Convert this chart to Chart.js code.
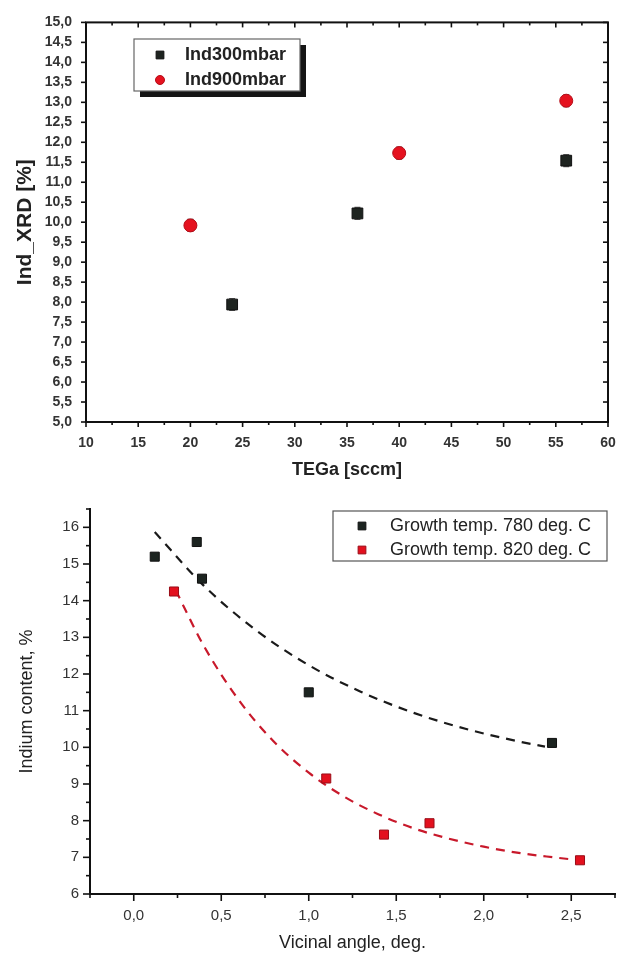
<!DOCTYPE html>
<html>
<head>
<meta charset="utf-8">
<script src="https://cdn.jsdelivr.net/npm/chart.js@4.4.1/dist/chart.umd.min.js"></script>
<style>
  body { margin: 0; background: #fff; }
  .wrap { position: absolute; left: 0; width: 630px; }
  #topWrap { top: 0; height: 490px; }
  #bottomWrap { top: 480px; height: 476px; }
</style>
</head>
<body>
<div class="wrap" id="topWrap"><canvas id="xrdChart"></canvas></div>
<div class="wrap" id="bottomWrap"><canvas id="vicinalChart"></canvas></div>
<script>
// Indium content (XRD) vs. TEGa flow, two reactor pressures
const tegaLow = [24, 36, 56];
const indLow = [7.94, 10.22, 11.54];
const errLow = [0.15, 0.15, 0.15];
const tegaHigh = [20, 40, 56];
const indHigh = [9.92, 11.73, 13.04];
const errHigh = [0.15, 0.15, 0.15];

// Indium content vs. vicinal angle, two growth temperatures
const angle780 = [0.12, 0.36, 0.39, 1.0, 2.39];
const indium780 = [15.2, 15.6, 14.6, 11.5, 10.12];
const angle820 = [0.23, 1.1, 1.43, 1.69, 2.55];
const indium820 = [14.25, 9.15, 7.62, 7.93, 6.92];

// dashed decay fits
const fitAngle780 = [0.12, 0.4, 0.7, 1.0, 1.3, 1.6, 1.9, 2.2, 2.35];
const fitIndium780 = [15.87, 14.41, 13.19, 12.24, 11.51, 10.94, 10.50, 10.16, 10.02];
const fitAngle820 = [0.24, 0.4, 0.6, 0.8, 1.0, 1.2, 1.4, 1.6, 1.8, 2.0, 2.2, 2.4, 2.55];
const fitIndium820 = [14.28, 12.77, 11.29, 10.16, 9.31, 8.66, 8.17, 7.79, 7.51, 7.29, 7.12, 7.00, 6.92];

// labelled ticks of the lower chart
const angleTicks = [0, 0.5, 1.0, 1.5, 2.0, 2.5];
const indiumTicks = [6, 7, 8, 9, 10, 11, 12, 13, 14, 15, 16];

const FONT = "'Liberation Sans', Arial, sans-serif";

const toPoints = (xs, ys) => xs.map((x, i) => ({ x: x, y: ys[i] }));
const comma = v => v.toFixed(1).replace('.', ',');

// ticks along the axes (major + minor), optionally with a closed frame
const axisTicks = {
  id: 'axisTicks',
  afterDraw(chart, args, opts) {
    const ctx = chart.ctx;
    const a = chart.chartArea;
    ctx.save();
    ctx.strokeStyle = '#111';
    if (opts.frame) {
      ctx.lineWidth = 2;
      ctx.strokeRect(a.left, a.top, a.right - a.left, a.bottom - a.top);
    }
    ctx.lineWidth = 1.6;
    opts.sides.forEach(s => {
      const scale = chart.scales[s.scale];
      const n = Math.round((scale.max - scale.min) / s.minor);
      const out = s.inward ? -1 : 1;
      for (let i = 0; i <= n; i++) {
        const v = scale.min + i * s.minor;
        const r = v / s.major;
        const len = Math.abs(r - Math.round(r)) < 1e-6 ? s.len : s.minorLen;
        const p = scale.getPixelForValue(v);
        ctx.beginPath();
        if (s.side === 'left') { ctx.moveTo(a.left, p); ctx.lineTo(a.left - out * len, p); }
        if (s.side === 'right') { ctx.moveTo(a.right, p); ctx.lineTo(a.right + out * len, p); }
        if (s.side === 'bottom') { ctx.moveTo(p, a.bottom); ctx.lineTo(p, a.bottom + out * len); }
        if (s.side === 'top') { ctx.moveTo(p, a.top); ctx.lineTo(p, a.top - out * len); }
        ctx.stroke();
      }
    });
    ctx.restore();
  }
};

// vertical error bars, drawn under the markers
const errorBars = {
  id: 'errorBars',
  beforeDatasetsDraw(chart) {
    const ctx = chart.ctx;
    const yScale = chart.scales.y;
    ctx.save();
    chart.data.datasets.forEach((ds, i) => {
      if (!ds.errorBars) return;
      const meta = chart.getDatasetMeta(i);
      ctx.strokeStyle = '#555';
      ctx.lineWidth = 1.2;
      meta.data.forEach((pt, k) => {
        const v = ds.data[k].y;
        const e = ds.errorBars[k];
        const y1 = yScale.getPixelForValue(v - e);
        const y2 = yScale.getPixelForValue(v + e);
        ctx.beginPath();
        ctx.moveTo(pt.x, y1); ctx.lineTo(pt.x, y2);
        ctx.moveTo(pt.x - 3, y1); ctx.lineTo(pt.x + 3, y1);
        ctx.moveTo(pt.x - 3, y2); ctx.lineTo(pt.x + 3, y2);
        ctx.stroke();
      });
    });
    ctx.restore();
  }
};

// boxed legend inside the plot area
const legendBox = {
  id: 'legendBox',
  afterDraw(chart, args, opts) {
    const ctx = chart.ctx;
    const b = opts.box;
    ctx.save();
    if (opts.shadow) {
      ctx.fillStyle = '#151515';
      ctx.fillRect(b.x + opts.shadow, b.y + opts.shadow, b.w, b.h);
    }
    ctx.fillStyle = '#fff';
    ctx.fillRect(b.x, b.y, b.w, b.h);
    ctx.strokeStyle = opts.borderColor;
    ctx.lineWidth = 1.2;
    ctx.strokeRect(b.x, b.y, b.w, b.h);
    opts.datasets.forEach((di, k) => {
      const ds = chart.data.datasets[di];
      const cy = b.y + opts.firstRow + k * opts.rowGap;
      ctx.fillStyle = ds.backgroundColor;
      ctx.strokeStyle = ds.borderColor;
      ctx.lineWidth = 1;
      Chart.helpers.drawPoint(ctx, { pointStyle: ds.pointStyle, rotation: 0, radius: opts.markerRadius[k], borderWidth: 1 }, b.x + opts.markerX, cy);
      ctx.fillStyle = '#222';
      ctx.font = opts.font;
      ctx.textBaseline = 'middle';
      ctx.fillText(ds.label, b.x + opts.textX, cy);
    });
    ctx.restore();
  }
};

// ---- top chart ----
new Chart(document.getElementById('xrdChart'), {
  type: 'scatter',
  data: {
    datasets: [
      {
        label: 'Ind300mbar',
        data: toPoints(tegaLow, indLow),
        errorBars: errLow,
        pointStyle: 'rect',
        pointRadius: 7.6,
        backgroundColor: '#1e2420',
        borderColor: '#111',
        borderWidth: 1
      },
      {
        label: 'Ind900mbar',
        data: toPoints(tegaHigh, indHigh),
        errorBars: errHigh,
        pointStyle: 'circle',
        pointRadius: 6.5,
        backgroundColor: '#e5121f',
        borderColor: '#b50d18',
        borderWidth: 1
      }
    ]
  },
  options: {
    responsive: true,
    maintainAspectRatio: false,
    animation: false,
    events: [],
    layout: { padding: { top: 14, right: 22, left: 0, bottom: 0 } },
    scales: {
      x: {
        type: 'linear',
        min: 10,
        max: 60,
        afterFit: s => { s.height = 68; },
        grid: { display: false, drawTicks: false },
        border: { display: false },
        ticks: { stepSize: 5, padding: 13, autoSkip: false, maxRotation: 0, color: '#333', font: { family: FONT, size: 14, weight: 'bold' } },
        title: { display: true, text: 'TEGa [sccm]', color: '#222', padding: { top: 0, bottom: 9 }, font: { family: FONT, size: 18, weight: 'bold' } }
      },
      y: {
        type: 'linear',
        min: 5,
        max: 15,
        afterFit: s => { s.width = 86; },
        grid: { display: false, drawTicks: false },
        border: { display: false },
        ticks: { stepSize: 0.5, padding: 14, autoSkip: false, color: '#333', callback: v => comma(v), font: { family: FONT, size: 14, weight: 'bold' } },
        title: { display: true, text: 'Ind_XRD [%]', color: '#222', padding: { top: 13, bottom: 0 }, font: { family: FONT, size: 21, weight: 'bold' } }
      }
    },
    plugins: {
      legend: { display: false },
      tooltip: { enabled: false },
      axisTicks: {
        frame: true,
        sides: [
          { scale: 'x', side: 'bottom', major: 5, minor: 2.5, len: 5, minorLen: 3 },
          { scale: 'x', side: 'top', major: 5, minor: 2.5, len: 5, minorLen: 3, inward: true },
          { scale: 'y', side: 'left', major: 0.5, minor: 0.5, len: 5, minorLen: 5 },
          { scale: 'y', side: 'right', major: 0.5, minor: 0.5, len: 5, minorLen: 5, inward: true }
        ]
      },
      legendBox: {
        box: { x: 134, y: 39, w: 166, h: 52 },
        shadow: 6,
        borderColor: '#666',
        datasets: [0, 1],
        markerRadius: [5.5, 4.5],
        markerX: 26,
        textX: 51,
        firstRow: 16,
        rowGap: 25,
        font: 'bold 18px ' + FONT
      }
    }
  },
  plugins: [axisTicks, errorBars, legendBox]
});

// ---- bottom chart ----
new Chart(document.getElementById('vicinalChart'), {
  type: 'scatter',
  data: {
    datasets: [
      {
        label: 'Growth temp. 780 deg. C',
        data: toPoints(angle780, indium780),
        pointStyle: 'rect',
        pointRadius: 6.4,
        backgroundColor: '#1c2420',
        borderColor: '#111',
        borderWidth: 1,
        order: 0
      },
      {
        label: 'Growth temp. 820 deg. C',
        data: toPoints(angle820, indium820),
        pointStyle: 'rect',
        pointRadius: 6.4,
        backgroundColor: '#e3101e',
        borderColor: '#9a0d18',
        borderWidth: 1,
        order: 0
      },
      {
        label: 'fit 780',
        data: toPoints(fitAngle780, fitIndium780),
        showLine: true,
        pointRadius: 0,
        borderColor: '#1a1a1a',
        borderWidth: 2.2,
        borderDash: [9, 7],
        cubicInterpolationMode: 'monotone',
        order: 1
      },
      {
        label: 'fit 820',
        data: toPoints(fitAngle820, fitIndium820),
        showLine: true,
        pointRadius: 0,
        borderColor: '#c8192b',
        borderWidth: 2.2,
        borderDash: [9, 7],
        cubicInterpolationMode: 'monotone',
        order: 1
      }
    ]
  },
  options: {
    responsive: true,
    maintainAspectRatio: false,
    animation: false,
    events: [],
    layout: { padding: { top: 29, right: 15, left: 0, bottom: 0 } },
    scales: {
      x: {
        type: 'linear',
        min: -0.25,
        max: 2.75,
        afterFit: s => { s.height = 62; },
        afterBuildTicks: s => { s.ticks = angleTicks.map(v => ({ value: v })); },
        grid: { display: false, drawTicks: false },
        border: { display: true, color: '#111', width: 2 },
        ticks: { padding: 13, autoSkip: false, maxRotation: 0, color: '#333', callback: v => comma(v), font: { family: FONT, size: 15 } },
        title: { display: true, text: 'Vicinal angle, deg.', color: '#222', padding: { top: 0, bottom: 2 }, font: { family: FONT, size: 18 } }
      },
      y: {
        type: 'linear',
        min: 6,
        max: 16.5,
        afterFit: s => { s.width = 90; },
        afterBuildTicks: s => { s.ticks = indiumTicks.map(v => ({ value: v })); },
        grid: { display: false, drawTicks: false },
        border: { display: true, color: '#111', width: 2 },
        ticks: { padding: 11, autoSkip: false, color: '#333', font: { family: FONT, size: 15 } },
        title: { display: true, text: 'Indium content, %', color: '#222', padding: { top: 16, bottom: 0 }, font: { family: FONT, size: 18 } }
      }
    },
    plugins: {
      legend: { display: false },
      tooltip: { enabled: false },
      axisTicks: {
        frame: false,
        sides: [
          { scale: 'x', side: 'bottom', major: 0.5, minor: 0.25, len: 7, minorLen: 4 },
          { scale: 'y', side: 'left', major: 1, minor: 0.5, len: 7, minorLen: 4 }
        ]
      },
      legendBox: {
        box: { x: 333, y: 31, w: 274, h: 50 },
        shadow: 0,
        borderColor: '#555',
        datasets: [0, 1],
        markerRadius: [5.5, 5.5],
        markerX: 29,
        textX: 57,
        firstRow: 15,
        rowGap: 24,
        font: '18px ' + FONT
      }
    }
  },
  plugins: [axisTicks, legendBox]
});
</script>
</body>
</html>
